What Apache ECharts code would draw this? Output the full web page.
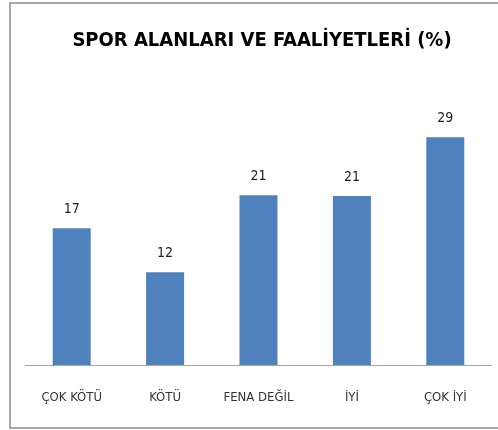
<!DOCTYPE html>
<html>
<head>
<meta charset="utf-8">
<script src="https://cdn.jsdelivr.net/npm/echarts@6/dist/echarts.min.js"></script>
<style>
  html, body { margin: 0; padding: 0; background: #fff; }
  #chart { width: 498px; height: 430px; }
</style>
</head>
<body>
<div id="chart"></div>
<script>
const categories = ['ÇOK KÖTÜ', 'KÖTÜ', 'FENA DEĞİL', 'İYİ', 'ÇOK İYİ']
const values = [17.4, 11.8, 21.6, 21.5, 29.0]
const valueLabels = ['17', '12', '21', '21', '29']

const font = '"DejaVu Sans Condensed", "Liberation Sans Narrow", sans-serif'

const chart = echarts.init(document.getElementById('chart'))
chart.setOption({
  animation: false,
  title: {
    text: 'SPOR ALANLARI VE FAALİYETLERİ (%)',
    left: 257,
    textAlign: 'center',
    top: 26,
    textStyle: { fontFamily: font, fontSize: 20, fontWeight: 'bold', color: '#000' }
  },
  graphic: [{
    type: 'rect',
    shape: { x: 10, y: 3, width: 500, height: 425 },
    style: { fill: 'none', stroke: '#8c8c8c', lineWidth: 1.5 },
    silent: true
  }],
  grid: { left: 25, right: 6, top: 90, bottom: 65 },
  xAxis: {
    type: 'category',
    data: categories,
    axisLine: { lineStyle: { color: '#a6a6a6', width: 1 } },
    axisTick: { show: false },
    axisLabel: { fontFamily: font, fontSize: 13, color: '#333', margin: 26 }
  },
  yAxis: {
    type: 'value',
    min: 0,
    max: 35,
    show: false,
    splitLine: { show: false }
  },
  series: [{
    type: 'bar',
    data: values,
    barWidth: 38,
    itemStyle: { color: '#4f81bd' },
    label: {
      show: true,
      position: 'top',
      distance: 12,
      fontFamily: font,
      fontSize: 14,
      color: '#222',
      formatter: (p) => valueLabels[p.dataIndex]
    }
  }]
})
</script>
</body>
</html>
